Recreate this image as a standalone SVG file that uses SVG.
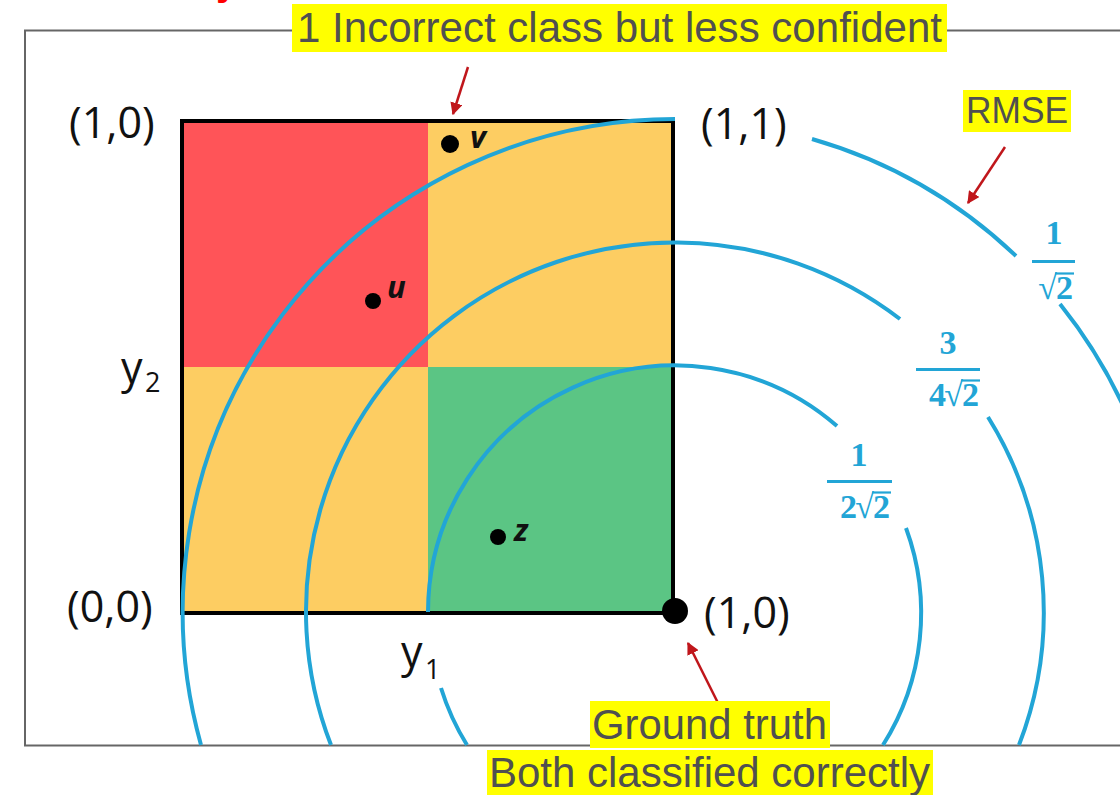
<svg xmlns="http://www.w3.org/2000/svg" width="1120" height="795" viewBox="0 0 1120 795">
<defs>
<style>
.lbl{font-family:"Open Sans","Liberation Sans",sans-serif;font-size:43px;fill:#111}
.sub{font-family:"Open Sans","Liberation Sans",sans-serif;font-size:27px;fill:#111}
.pt{font-family:"Open Sans","Liberation Sans",sans-serif;font-size:31px;font-weight:bold;font-style:italic;fill:#111}
.frac{font-family:"Liberation Serif","DejaVu Serif",serif;font-size:34px;font-weight:bold;fill:#22A5D6}
.m{text-anchor:middle}
.e{text-anchor:end}
.fbar{stroke:#22A5D6;stroke-width:3}
.vin{stroke:#22A5D6;stroke-width:2.2}
.arc{fill:none;stroke:#22A5D6;stroke-width:4}
.note{font-family:"Liberation Sans",Arial,sans-serif;font-size:42px;fill:#505050}
.hl{fill:#FFFF00}
.arrow{stroke:#C0161B;stroke-width:2.5;fill:none;marker-end:url(#ah)}
</style>
<marker id="ah" viewBox="0 0 10 10" refX="9" refY="5" markerWidth="5" markerHeight="5" orient="auto" markerUnits="strokeWidth">
<path d="M0,0 L10,5 L0,10 z" fill="#C0161B"/>
</marker>
</defs>
<rect width="1120" height="795" fill="#fff"/>
<text x="216" y="-5" font-family="Liberation Sans, sans-serif" font-size="40" font-weight="bold" fill="#FF0000">y</text>
<rect id="frame" x="25" y="30.5" width="1130" height="715" fill="none" stroke="#666" stroke-width="2"/>
<g id="square">
<rect x="182" y="121" width="246" height="246" fill="#FF5458"/>
<rect x="428" y="121" width="245" height="246" fill="#FDCD62"/>
<rect x="182" y="367" width="246" height="246" fill="#FDCD62"/>
<rect x="428" y="367" width="245" height="246" fill="#5BC584"/>
<rect x="182" y="121" width="491" height="492" fill="none" stroke="#000" stroke-width="4"/>
</g>
<g id="connectors">
<path class="arc" d="M201,745 A493,493 0 0 1 675,119"/>
<path class="arc" d="M812,139 A493,493 0 0 1 1016,256"/>
<path class="arc" d="M1060,304 A493,493 0 0 1 1150,745"/>
<path class="arc" d="M331,745 A369,369 0 0 1 900,319"/>
<path class="arc" d="M988,417 A369,369 0 0 1 1019,745"/>
<path class="arc" d="M428,612 A247,247 0 0 1 837,426"/>
<path class="arc" d="M467,745 A247,247 0 0 1 441,688"/>
<path class="arc" d="M906,528 A247,247 0 0 1 883,745"/>
<line class="arrow" x1="468" y1="67" x2="453" y2="114"/>
<line class="arrow" x1="1005" y1="147" x2="968" y2="203"/>
<line class="arrow" x1="720" y1="707" x2="688" y2="643"/>
</g>
<g id="corner-labels">
<text class="lbl" x="69" y="138">(1,0)</text>
<text class="lbl" x="701" y="139">(1,1)</text>
<text class="lbl" x="67" y="622">(0,0)</text>
<text class="lbl" x="704" y="628">(1,0)</text>
<text class="lbl" x="121" y="383">y</text><text class="sub" x="145" y="392">2</text>
<text class="lbl" x="401" y="667">y</text><text class="sub" x="425" y="679">1</text>
</g>
<g id="point-v"><circle cx="450" cy="144" r="9" fill="#000"/><text class="pt" x="470" y="148">v</text></g>
<g id="point-u"><circle cx="373" cy="301" r="8" fill="#000"/><text class="pt" x="387" y="298">u</text></g>
<g id="point-z"><circle cx="498" cy="537" r="8" fill="#000"/><text class="pt" x="514" y="541">z</text></g>
<g id="ground-truth"><circle cx="675" cy="611" r="13" fill="#000"/></g>
<g id="frac-outer">
<text class="frac m" x="1054" y="244">1</text>
<line class="fbar" x1="1032" y1="261.5" x2="1075" y2="261.5"/>
<text class="frac e" x="1057" y="299">√</text><text class="frac" x="1056" y="299">2</text>
<line class="vin" x1="1055" y1="273.5" x2="1074" y2="273.5"/>
</g>
<g id="frac-middle">
<text class="frac m" x="948" y="354">3</text>
<line class="fbar" x1="916" y1="369.5" x2="980" y2="369.5"/>
<text class="frac e" x="946" y="406">4</text>
<text class="frac e" x="963" y="406">√</text><text class="frac" x="962" y="406">2</text>
<line class="vin" x1="961" y1="380.5" x2="980" y2="380.5"/>
</g>
<g id="frac-inner">
<text class="frac m" x="859" y="466">1</text>
<line class="fbar" x1="827" y1="481.5" x2="892" y2="481.5"/>
<text class="frac e" x="857" y="518">2</text>
<text class="frac e" x="874" y="518">√</text><text class="frac" x="873" y="518">2</text>
<line class="vin" x1="872" y1="492.5" x2="891" y2="492.5"/>
</g>
<g id="note-top">
<rect class="hl" x="292" y="4" width="655" height="48"/>
<text class="note" x="297" y="42" textLength="645" lengthAdjust="spacingAndGlyphs">1 Incorrect class but less confident</text>
</g>
<g id="note-rmse">
<rect class="hl" x="963" y="90" width="108" height="42"/>
<text class="note" x="966" y="123" style="font-size:36px" textLength="102" lengthAdjust="spacingAndGlyphs">RMSE</text>
</g>
<g id="note-ground">
<rect class="hl" x="590" y="701" width="240" height="47"/>
<text class="note" x="592" y="739" textLength="235" lengthAdjust="spacingAndGlyphs">Ground truth</text>
</g>
<g id="note-both">
<rect class="hl" x="487" y="750" width="446" height="45"/>
<text class="note" x="489" y="787" textLength="441" lengthAdjust="spacingAndGlyphs">Both classified correctly</text>
</g>
</svg>
